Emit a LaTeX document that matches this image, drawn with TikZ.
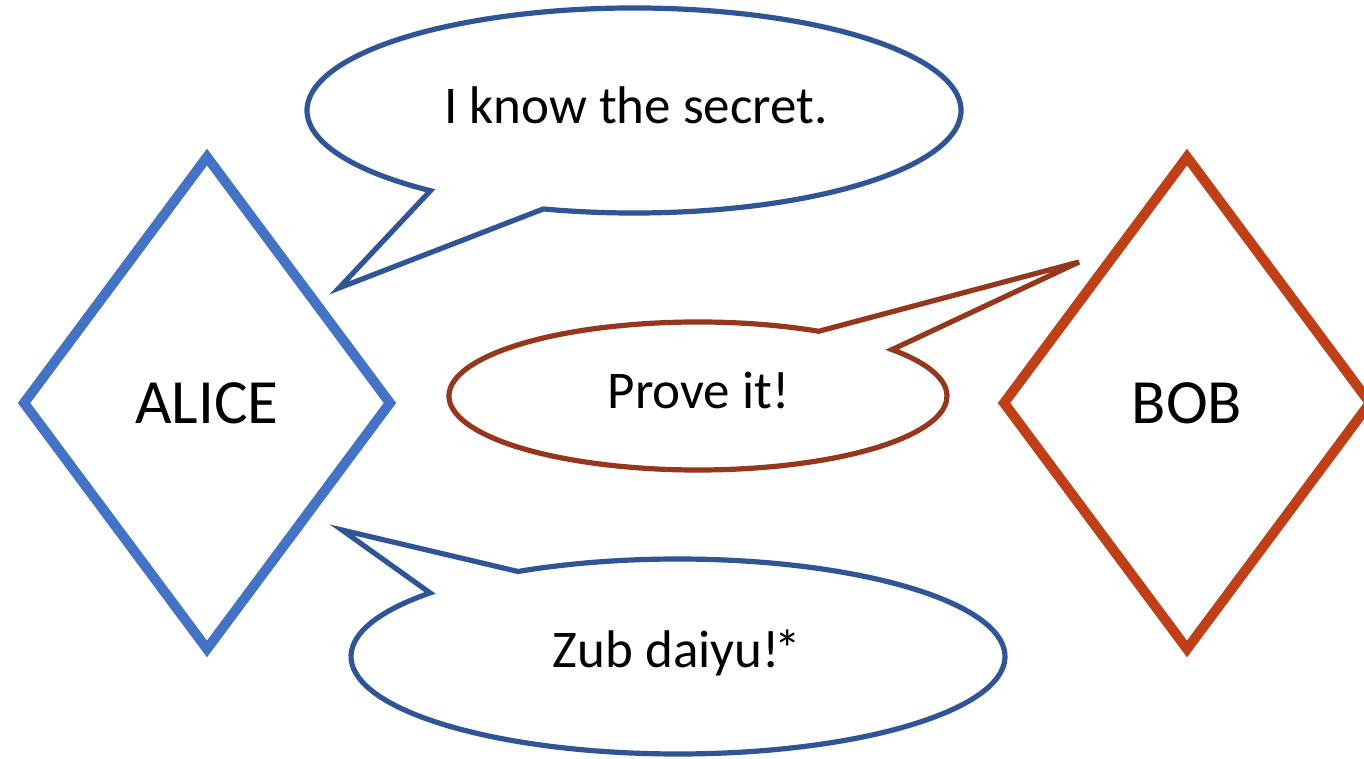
\documentclass[tikz,border=0pt]{standalone}
\usepackage{fontspec}
\setmainfont{Carlito}
\usetikzlibrary{shapes.geometric}

\definecolor{aliceblue}{HTML}{4472C4}
\definecolor{bobred}{HTML}{BF4016}
\definecolor{saysblue}{HTML}{2F5597}
\definecolor{saysred}{HTML}{96361C}

\tikzset{
  person/.style={diamond, draw, line width=10pt, minimum width=370pt,
    minimum height=496pt, inner sep=0pt, font=\fontsize{63}{70}\selectfont},
  bubble/.style={line width=5.2pt, fill=white, line join=miter},
  saying/.style={anchor=base, inner sep=0pt, font=\fontsize{53}{58}\selectfont},
}

\begin{document}
\begin{tikzpicture}[x=1pt, y=1pt]
  \useasboundingbox (0,0) rectangle (1364,759);
  \clip (0,0) rectangle (1364,759);

  % the two parties
  \node[person, draw=aliceblue] (alice) at (207,356) {ALICE};
  \node[person, draw=bobred] (bob) at (1187,356) {BOB};

  % centres and tail tips of the speech bubbles
  \coordinate (c1) at (634,648.5);
  \coordinate (tip1) at (339,471);
  \coordinate (c2) at (698,363);
  \coordinate (tip2) at (1079,497);
  \coordinate (c3) at (678,102.5);
  \coordinate (tip3) at (342,229);

  % Alice: first claim
  \draw[bubble, draw=saysblue] (c1) ++(253.9:327 and 102.5)
    arc[start angle=253.9, end angle=591.5, x radius=327, y radius=102.5]
    -- (tip1) -- cycle;
  % Bob: the challenge
  \draw[bubble, draw=saysred] (c2) ++(61.0:249 and 74)
    arc[start angle=61.0, end angle=398.8, x radius=249, y radius=74]
    -- (tip2) -- cycle;
  % Alice: the reply
  \draw[bubble, draw=saysblue] (c3) ++(139.3:327 and 97.5)
    arc[start angle=139.3, end angle=479.3, x radius=327, y radius=97.5]
    -- (tip3) -- cycle;

  \node[saying] (claim) at (636,635) {I know the secret.};
  \node[saying] (challenge) at (698.5,350) {Prove it!};
  \node[saying] (reply) at (677,91) {Zub daiyu!\kern-5pt*};
\end{tikzpicture}
\end{document}
